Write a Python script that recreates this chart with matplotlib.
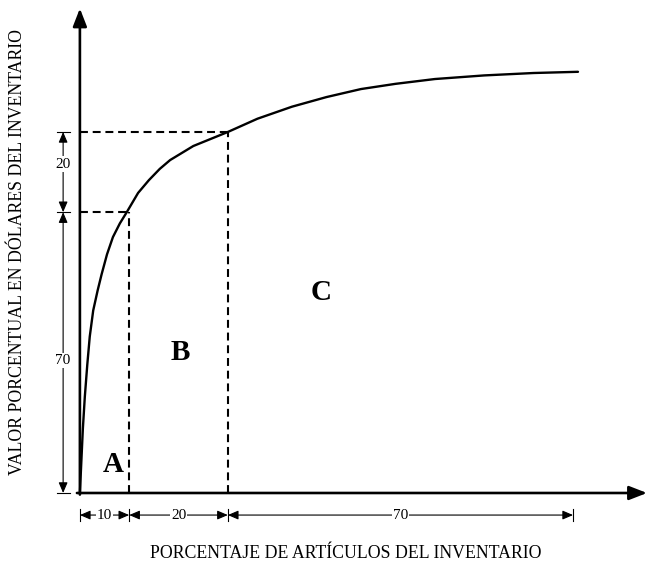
import matplotlib.pyplot as plt

# curve (% of items, % of value)
curve_x = [0, 0.3, 0.6, 1.0, 1.5, 2.0, 2.7, 3.6, 4.4, 5.5, 6.7, 8.1, 9.5,
           11.8, 14, 16.2, 18.3, 23, 30, 36, 43, 50, 57, 64, 72, 82, 92, 101]
curve_y = [0, 8, 16, 24, 32, 39, 45.5, 50.5, 54.5, 59.5, 63.8, 67.2, 70,
           74.8, 78.0, 80.8, 83, 86.5, 90, 93.3, 96.3, 98.7, 100.7, 102, 103.2, 104.1, 104.7, 105]

# ABC limits
class_x = [10, 30]
class_y = [70, 90]
x_parts = ["10", "20", "70"]
x_bounds = [0, 10, 30, 100]
y_parts = ["70", "20"]
y_bounds = [0, 70, 90]
class_names = ["A", "B", "C"]
class_pos = [(6.7, 7), (20.3, 35), (49, 50)]

SERIF = "Liberation Serif"


def dim_arrow(ax, p0, p1):
    ax.annotate("", xy=p1, xytext=p0,
                arrowprops=dict(arrowstyle="<|-|>,head_length=0.7,head_width=0.3",
                                color="black", lw=0.8,
                                mutation_scale=9, shrinkA=0, shrinkB=0))


def main():
    fig = plt.figure(figsize=(6.49, 5.66), dpi=100)
    ax = fig.add_axes([0, 0, 1, 1])
    ax.set_xlim(-16.2, 115.4)
    ax.set_ylim(-18.2, 122.9)
    ax.axis("off")

    # axes with arrowheads
    head = "-|>,head_length=0.9,head_width=0.35"
    ax.annotate("", xy=(115, 0), xytext=(-0.6, 0),
                arrowprops=dict(arrowstyle=head, color="black", lw=1.9,
                                mutation_scale=12, shrinkA=0, shrinkB=0))
    ax.annotate("", xy=(0, 120.8), xytext=(0, -0.4),
                arrowprops=dict(arrowstyle=head, color="black", lw=1.9,
                                mutation_scale=12, shrinkA=0, shrinkB=0))

    # dashed guides
    for cx, cy in zip(class_x, class_y):
        ax.plot([0, cx], [cy, cy], color="black", lw=1.5, ls=(0, (3.8, 2.3)))
        ax.plot([cx, cx], [0, cy], color="black", lw=1.5, ls=(0, (3.8, 2.3)))

    ax.plot(curve_x, curve_y, color="black", lw=1.7, solid_capstyle="round",
            solid_joinstyle="round")

    # vertical dimensions
    vx = -3.4
    for i, lab in enumerate(y_parts):
        y0, y1 = y_bounds[i], y_bounds[i + 1]
        dim_arrow(ax, (vx, y0), (vx, y1))
        ym = (y0 + y1) / 2 + (-2 if i == 0 else 2)
        ax.text(vx, ym, lab, ha="center", va="center", fontsize=11,
                family=SERIF, bbox=dict(fc="white", ec="none", pad=1))
    for yb in y_bounds:
        ax.plot([vx - 1.3, vx + 1.3], [yb, yb], color="black", lw=0.8)

    # horizontal dimensions
    hy = -5.5
    for i, lab in enumerate(x_parts):
        x0, x1 = x_bounds[i], x_bounds[i + 1]
        dim_arrow(ax, (x0, hy), (x1, hy))
        ax.text((x0 + x1) / 2, hy, lab, ha="center", va="center",
                fontsize=11, family=SERIF,
                bbox=dict(fc="white", ec="none", pad=0.5))
    for xb in x_bounds:
        ax.plot([xb, xb], [hy - 1.5, hy + 1.5], color="black", lw=0.8)

    for name, (px, py) in zip(class_names, class_pos):
        ax.text(px, py, name, ha="center", va="center", fontsize=21,
                fontweight="bold", family=SERIF)

    ax.text(54, -15, "PORCENTAJE DE ARTÍCULOS DEL INVENTARIO",
            ha="center", va="center", fontsize=12.8, family=SERIF)
    ax.text(-12.6, 60, "VALOR PORCENTUAL EN DÓLARES DEL INVENTARIO",
            ha="center", va="center", fontsize=12.8, family=SERIF,
            rotation=90)

    fig.savefig("out.png", dpi=100)


if __name__ == "__main__":
    main()
